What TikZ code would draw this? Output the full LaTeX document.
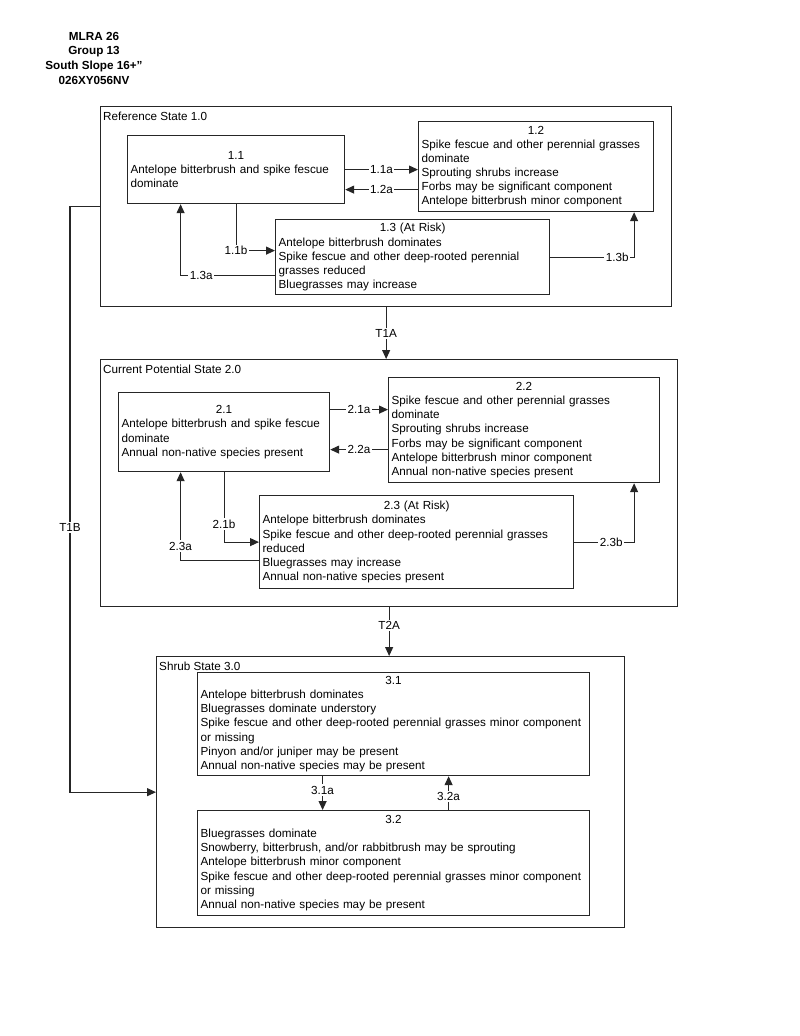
\documentclass[tikz,border=0pt]{standalone}
\usepackage{fontspec}
\setmainfont{Liberation Sans}
\usetikzlibrary{arrows.meta}
\newcommand{\boxhead}[1]{\makebox[\linewidth]{#1}}

\begin{document}
\begin{tikzpicture}[x=1pt,y=-1pt,
  font=\fontsize{11.7}{14.1}\selectfont,
  frame/.style={draw=black!85, line width=1.3pt, anchor=north west, inner sep=0pt},
  phase/.style={draw=black!85, line width=1.2pt, anchor=north west, inner xsep=3pt, inner ysep=0pt, align=left},
  tr/.style={draw=black!85, line width=1.1pt, -{Triangle[length=9pt,width=8pt]}},
  lbl/.style={fill=white, inner sep=1.5pt}]
\useasboundingbox (0,0) rectangle (800,1036);

\node[font=\bfseries\fontsize{11.7}{14.6}\selectfont, align=center, anchor=north, inner sep=0pt] (title) at (94,32) {MLRA 26\\Group 13\\South Slope 16+”\\026XY056NV};

\node[frame, minimum width=571pt, minimum height=200pt] (s1) at (100,106) {};
\node[anchor=base west, inner sep=0pt] (s1t) at ([shift={(3,14)}]s1.north west) {Reference State 1.0};
\node[phase, text width=211pt, minimum height=68pt] (b11) at (127,135) {\boxhead{1.1}\\Antelope bitterbrush and spike fescue\\dominate};
\node[phase, text width=229pt, minimum height=90pt] (b12) at (418,121) {\boxhead{1.2}\\Spike fescue and other perennial grasses\\dominate\\Sprouting shrubs increase\\Forbs may be significant component\\Antelope bitterbrush minor component};
\node[phase, text width=268pt, minimum height=75pt] (b13) at (275,219) {\boxhead{1.3 (At Risk)}\\Antelope bitterbrush dominates\\Spike fescue and other deep-rooted perennial\\grasses reduced\\Bluegrasses may increase};

\draw[tr] (b11.east) -- node[lbl]{1.1a} (b11.east -| b12.west);
\draw[tr] ([yshift=-23pt]b12.west) -- node[lbl]{1.2a} ([yshift=-23pt]b12.west -| b11.east);
\draw[tr] (b11.south) |- node[lbl]{1.1b} ([yshift=6.5pt]b13.west);
\draw[tr] ([yshift=-18pt]b13.west) -| node[lbl, pos=0.39]{1.3a} ([xshift=-55.5pt]b11.south);
\draw[tr] (b13.east) -| node[lbl, pos=0.4]{1.3b} ([xshift=98pt]b12.south);

\node[frame, minimum width=577pt, minimum height=247pt] (s2) at (100,359) {};
\node[anchor=base west, inner sep=0pt] (s2t) at ([shift={(3,14)}]s2.north west) {Current Potential State 2.0};
\node[phase, text width=205pt, minimum height=79pt] (b21) at (118,392) {\boxhead{2.1}\\Antelope bitterbrush and spike fescue\\dominate\\Annual non-native species present};
\node[phase, text width=265pt, minimum height=105pt] (b22) at (388,377) {\boxhead{2.2}\\Spike fescue and other perennial grasses\\dominate\\Sprouting shrubs increase\\Forbs may be significant component\\Antelope bitterbrush minor component\\Annual non-native species present};
\node[phase, text width=308pt, minimum height=93pt] (b23) at (259,495) {\boxhead{2.3 (At Risk)}\\Antelope bitterbrush dominates\\Spike fescue and other deep-rooted perennial grasses\\reduced\\Bluegrasses may increase\\Annual non-native species present};

\draw[tr] (s1.south) -- node[lbl]{T1A} (s1.south |- s2.north);
\draw[tr] ([yshift=22.5pt]b21.east) -- node[lbl]{2.1a} ([yshift=22.5pt]b21.east -| b22.west);
\draw[tr] ([yshift=-17.5pt]b21.east -| b22.west) -- node[lbl]{2.2a} ([yshift=-17.5pt]b21.east);
\draw[tr] (b21.south) |- node[lbl, pos=0.37]{2.1b} (b23.west);
\draw[tr] ([yshift=-18pt]b23.west) -| node[lbl, pos=0.58]{2.3a} ([xshift=-43.5pt]b21.south);
\draw[tr] (b23.east) -| node[lbl, pos=0.31]{2.3b} ([xshift=110pt]b22.south);

\node[frame, minimum width=468pt, minimum height=271pt] (s3) at (156,656) {};
\node[anchor=base west, inner sep=0pt] (s3t) at ([shift={(3,14)}]s3.north west) {Shrub State 3.0};
\node[phase, text width=386pt, minimum height=103pt] (b31) at (197,672) {\boxhead{3.1}\\Antelope bitterbrush dominates\\Bluegrasses dominate understory\\Spike fescue and other deep-rooted perennial grasses minor component\\or missing\\Pinyon and/or juniper may be present\\Annual non-native species may be present};
\node[phase, text width=386pt, minimum height=105pt] (b32) at (197,810) {\boxhead{3.2}\\Bluegrasses dominate\\Snowberry, bitterbrush, and/or rabbitbrush may be sprouting\\Antelope bitterbrush minor component\\Spike fescue and other deep-rooted perennial grasses minor component\\or missing\\Annual non-native species may be present};

\draw[tr] (s2.south) -- node[lbl, pos=0.37]{T2A} (s2.south |- s3.north);
\coordinate (t1b) at ([xshift=-30pt]s1.west);
\draw[tr] (s1.west) -- (t1b) |- node[lbl, pos=0.274]{T1B} (s3.west);
\draw[tr] ([xshift=-71pt]b31.south) -- node[lbl, pos=0.41]{3.1a} ([xshift=-71pt]b31.south |- b32.north);
\draw[tr] ([xshift=55pt]b32.north) -- node[lbl, pos=0.41]{3.2a} ([xshift=55pt]b32.north |- b31.south);
\end{tikzpicture}
\end{document}
